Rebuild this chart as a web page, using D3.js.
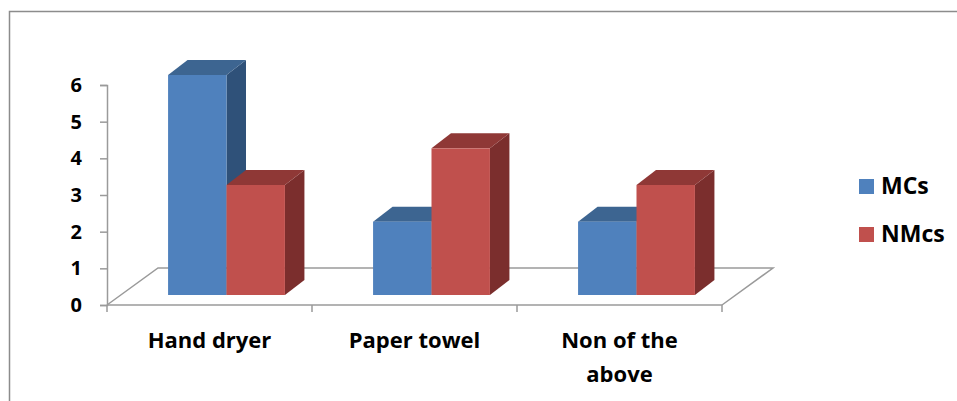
<!DOCTYPE html>
<html>
<head>
<meta charset="utf-8">
<script src="https://cdn.jsdelivr.net/npm/d3@7"></script>
<style>
  body { margin: 0; background: #fff; }
  text { font-family: "Open Sans", sans-serif; font-weight: 700; fill: #000; }
</style>
</head>
<body>
<svg id="chart" width="957" height="401"></svg>
<script>
// chart values
let categories = ['Hand dryer', 'Paper towel', 'Non of the above'];
let seriesNames = ['MCs', 'NMcs'];
let mcsValues = [6, 2, 2];
let nmcsValues = [3, 4, 3];
let yTicks = [0, 1, 2, 3, 4, 5, 6];

let colors = {
  'MCs': {front: '#4f81bd', top: '#3d6591', side: '#2f5179'},
  'NMcs': {front: '#c0504d', top: '#8f3836', side: '#7b2e2d'},
};

let svg = d3.select('#chart');

// outer frame (only top and left edges are in view)
svg.append('path')
    .attr('d', 'M9.5,401 V11.5 H957')
    .attr('fill', 'none')
    .attr('stroke', '#8c8c8c')
    .attr('stroke-width', 1.5);

let x = d3.scaleBand().domain(categories).range([107, 722]);
let y = d3.scaleLinear().domain([0, 6]).range([305, 85]);

// floor depth and bar depth (oblique projection)
let floorDx = 51, floorDy = -37;
let barShiftX = 17, barShiftY = -10;
let barDx = 19.5, barDy = -15;
let groupWidth = x.bandwidth() * 0.57;

let x1 = d3.scaleBand().domain(seriesNames).range([-groupWidth / 2, groupWidth / 2]);

// floor
let fl = x.range()[0], fr = x.range()[1], fy = y(0);
svg.append('path')
    .attr('d', `M${fl},${fy} L${fl + floorDx},${fy + floorDy} H${fr + floorDx} L${fr},${fy}`)
    .attr('fill', 'none')
    .attr('stroke', '#9a9a9a')
    .attr('stroke-width', 1.5);

// category axis line + ticks
let bounds = categories.map(c => x(c)).concat([x.range()[1]]);
svg.append('line')
    .attr('x1', fl).attr('x2', fr).attr('y1', fy).attr('y2', fy)
    .attr('stroke', '#9a9a9a').attr('stroke-width', 1.5);
svg.selectAll('line.ctick')
    .data(bounds)
    .join('line')
    .attr('class', 'ctick')
    .attr('x1', d => d).attr('x2', d => d)
    .attr('y1', fy).attr('y2', fy + 7)
    .attr('stroke', '#9a9a9a').attr('stroke-width', 1.5);

// value axis
let yAxis = d3.axisLeft(y).tickValues(yTicks).tickSize(7).tickPadding(18).tickFormat(d3.format('d'));
let ga = svg.append('g')
    .attr('transform', `translate(${fl},0)`)
    .call(yAxis);
ga.selectAll('path, line').attr('stroke', '#9a9a9a').attr('stroke-width', 1.5);
ga.selectAll('text')
    .style('font-family', '"Open Sans", sans-serif')
    .style('font-weight', 700)
    .style('font-size', '20px')
    .attr('fill', '#000');

// bars
let rows = categories.map((c, i) => ({cat: c, values: [
  {name: 'MCs', value: mcsValues[i]},
  {name: 'NMcs', value: nmcsValues[i]},
]}));

rows.forEach(row => {
  let cx = x(row.cat) + x.bandwidth() / 2 + barShiftX;
  row.values.forEach(d => {
    let x0 = cx + x1(d.name);
    let w = x1.bandwidth();
    let yb = y(0) + barShiftY;
    let yt = y(d.value) + barShiftY;
    let c = colors[d.name];
    let g = svg.append('g').attr('class', 'bar');
    g.append('path')
        .attr('d', `M${x0 + w},${yb} L${x0 + w + barDx},${yb + barDy} V${yt + barDy} L${x0 + w},${yt} Z`)
        .attr('fill', c.side);
    g.append('path')
        .attr('d', `M${x0},${yt} L${x0 + barDx},${yt + barDy} H${x0 + w + barDx} L${x0 + w},${yt} Z`)
        .attr('fill', c.top);
    g.append('rect')
        .attr('x', x0).attr('y', yt)
        .attr('width', w).attr('height', yb - yt)
        .attr('fill', c.front);
  });
});

// category labels, wrapped
function wrapLabel(s) {
  let words = s.split(' ');
  if (words.length <= 2) return [s];
  return [words.slice(0, 3).join(' '), words.slice(3).join(' ')];
}
svg.selectAll('text.cat')
    .data(categories)
    .join('text')
    .attr('class', 'cat')
    .attr('text-anchor', 'middle')
    .style('font-size', '22px')
    .each(function(d) {
      let t = d3.select(this);
      wrapLabel(d).forEach((line, i) => {
        t.append('tspan')
            .attr('x', x(d) + x.bandwidth() / 2)
            .attr('y', 348 + i * 34)
            .text(line);
      });
    });

// legend
let legend = svg.selectAll('g.legend')
    .data(seriesNames)
    .join('g')
    .attr('class', 'legend')
    .attr('transform', (d, i) => `translate(859, ${179 + i * 48})`);
legend.append('rect')
    .attr('width', 15).attr('height', 15)
    .attr('fill', d => colors[d].front);
legend.append('text')
    .attr('x', 22).attr('y', 15)
    .style('font-size', '23px')
    .text(d => d);
</script>
</body>
</html>
